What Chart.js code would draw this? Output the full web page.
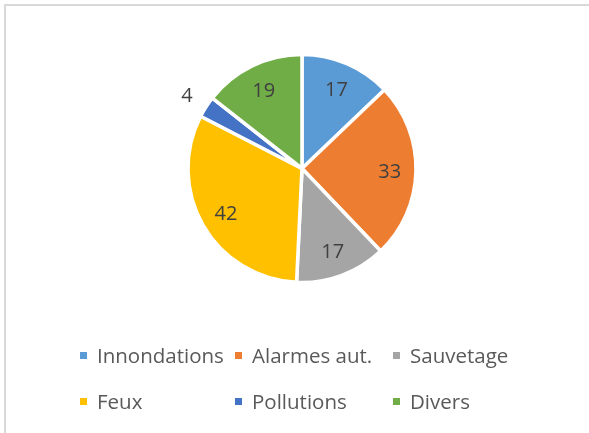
<!DOCTYPE html>
<html>
<head>
<meta charset="utf-8">
<script src="https://cdn.jsdelivr.net/npm/chart.js@4/dist/chart.umd.min.js"></script>
<style>
  html, body { margin: 0; padding: 0; background: #fff; }
  #wrap { position: relative; width: 589px; height: 433px; overflow: hidden; }
  #frame { position: absolute; left: 4px; top: 4px; width: 600px; height: 450px;
    border-top: 2px solid #d9d9d9; border-left: 2px solid #d9d9d9; }
  #pie { position: absolute; left: 0; top: 0; }
  #legend { position: absolute; left: 80px; top: 340px; display: grid;
    grid-template-columns: 155px 158px auto; grid-auto-rows: 46px;
    font-family: "Open Sans", sans-serif; font-size: 20.5px; color: #595959; }
  #legend .item { display: flex; align-items: center; height: 30px; white-space: nowrap; }
  #legend .box { width: 7px; height: 7px; margin-right: 10px; flex: none; }
</style>
</head>
<body>
<div id="wrap">
  <div id="frame"></div>
  <canvas id="pie" width="589" height="433"></canvas>
  <div id="legend"></div>
</div>
<script>
// ── data ─────────────────────────────────────────────
const categories = ["Innondations", "Alarmes aut.", "Sauvetage", "Feux", "Pollutions", "Divers"];
const counts     = [17, 33, 17, 42, 4, 19];
const sliceColors = ["#5b9bd5", "#ed7d31", "#a5a5a5", "#ffc000", "#4472c4", "#70ad47"];

// value labels, inside the slice, or outside when the slice is tiny
const valueLabels = {
  id: "valueLabels",
  afterDatasetsDraw(chart) {
    const { ctx } = chart;
    const meta = chart.getDatasetMeta(0);
    const total = counts.reduce((a, b) => a + b, 0);
    ctx.save();
    ctx.font = "20px 'Open Sans', sans-serif";
    ctx.fillStyle = "#404040";
    ctx.textAlign = "center";
    ctx.textBaseline = "middle";
    meta.data.forEach((arc, i) => {
      const p = arc.getProps(["x", "y", "startAngle", "endAngle", "outerRadius"], true);
      const mid = (p.startAngle + p.endAngle) / 2;
      const r = counts[i] / total < 0.05 ? p.outerRadius * 1.2 : p.outerRadius * 0.77;
      ctx.fillText(String(counts[i]), p.x + Math.cos(mid) * r, p.y + Math.sin(mid) * r + 2);
    });
    ctx.restore();
  },
};

new Chart(document.getElementById("pie").getContext("2d"), {
  type: "pie",
  data: {
    labels: categories,
    datasets: [{
      data: counts,
      backgroundColor: sliceColors,
      borderColor: "#ffffff",
      borderWidth: 3.5,
      radius: 114,
    }],
  },
  options: {
    responsive: false,
    animation: false,
    layout: { padding: { left: 15, right: 0, top: 0, bottom: 96 } },
    plugins: { legend: { display: false }, tooltip: { enabled: false } },
  },
  plugins: [valueLabels],
});

// legend in Excel's grid arrangement
document.getElementById("legend").innerHTML = categories.map((c, i) => `
  <div class="item"><span class="box" style="background:${sliceColors[i]}"></span>${c}</div>`).join("");
</script>
</body>
</html>
